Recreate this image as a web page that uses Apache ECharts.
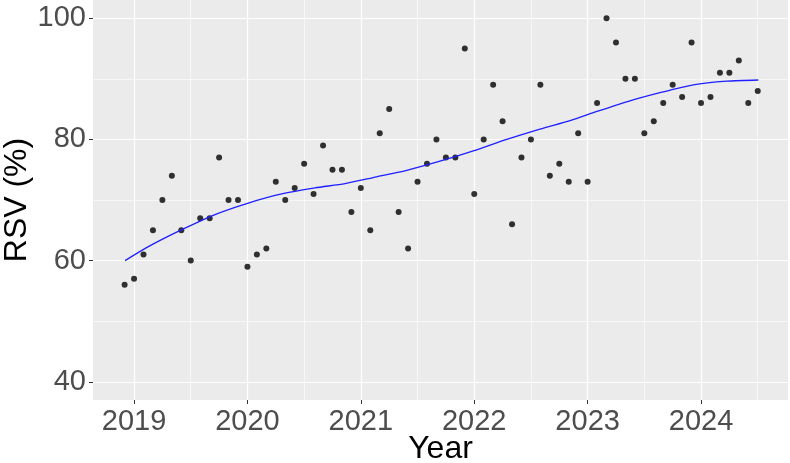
<!DOCTYPE html>
<html>
<head>
<meta charset="utf-8">
<script src="https://cdn.jsdelivr.net/npm/echarts@6/dist/echarts.min.js"></script>
<style>
  html, body { margin: 0; padding: 0; background: #fff; }
  #chart { width: 790px; height: 463px; }
</style>
</head>
<body>
<div id="chart"></div>
<script>
// monthly RSV values, Dec 2018 .. Jul 2024
var startYear = 2018;
var startMonth = 12;
var rsv = [
  56,
  57, 61, 65, 70, 74, 65, 60, 67, 67, 77, 70, 70,
  59, 61, 62, 73, 70, 72, 76, 71, 79, 75, 75, 68,
  72, 65, 81, 85, 68, 62, 73, 76, 80, 77, 77, 95,
  71, 80, 89, 83, 66, 77, 80, 89, 74, 76, 73, 81,
  73, 86, 100, 96, 90, 90, 81, 83, 86, 89, 87, 96,
  86, 87, 91, 91, 93, 86, 88
];

// smoothed trend
var trendX = [2018.921, 2019.126, 2019.421, 2019.714, 2020.008, 2020.302, 2020.596, 2020.861,
  2021.110, 2021.405, 2021.698, 2021.992, 2022.287, 2022.580, 2022.845,
  2023.050, 2023.345, 2023.638, 2023.932, 2024.227, 2024.505];
var trendY = [60, 62.3, 65.1, 67.6, 69.5, 71.0, 72.0, 72.7,
  73.7, 74.9, 76.4, 78.1, 80.0, 81.7, 83.1,
  84.4, 86.2, 87.7, 89.0, 89.6, 89.8];

var yearTicks = [2019, 2020, 2021, 2022, 2023, 2024];
var yearMinor = [2019.5, 2020.5, 2021.5, 2022.5, 2023.5, 2024.5];
var rsvTicks = [40, 60, 80, 100];
var rsvMinor = [50, 70, 90];

var points = rsv.map(function (v, i) {
  var m = startMonth - 1 + i;
  return [startYear + Math.floor(m / 12) + (m % 12) / 12, v];
});
var trend = trendX.map(function (x, i) { return [x, trendY[i]]; });

var chart = echarts.init(document.getElementById('chart'));
var labelFont = { color: '#4d4d4d', fontSize: 29, fontFamily: 'Liberation Sans' };
var xMin = 2018.638, xMax = 2024.767;

chart.setOption({
  backgroundColor: '#fff',
  animation: false,
  grid: {
    left: 93, right: 2, top: 0, bottom: 63,
    outerBoundsMode: 'none', containLabel: false,
    show: true, backgroundColor: '#ebebeb', borderWidth: 0
  },
  xAxis: [{
    type: 'value', min: xMin, max: xMax,
    name: 'Year', nameLocation: 'middle', nameGap: 33, nameMoveOverlap: false,
    nameTextStyle: { color: '#000', fontSize: 32, fontFamily: 'Liberation Sans' },
    axisLine: { show: false },
    axisTick: { show: true, length: 4, customValues: yearTicks, lineStyle: { color: '#333', width: 1 } },
    axisLabel: Object.assign({ customValues: yearTicks, margin: 7, formatter: function (v) { return String(Math.round(v)); } }, labelFont),
    splitLine: { show: true, lineStyle: { color: '#fff', width: 1.2 } }
  }, {
    type: 'value', min: xMin, max: xMax, position: 'bottom',
    axisLine: { show: false }, axisLabel: { show: false },
    axisTick: { show: false, customValues: yearMinor },
    splitLine: { show: true, lineStyle: { color: '#fff', width: 0.6 } }
  }],
  yAxis: [{
    type: 'value', min: 37, max: 103,
    name: 'RSV (%)', nameLocation: 'middle', nameGap: 60, nameRotate: 90, nameMoveOverlap: false,
    nameTextStyle: { color: '#000', fontSize: 32, fontFamily: 'Liberation Sans' },
    axisLine: { show: false },
    axisTick: { show: true, length: 4, customValues: rsvTicks, lineStyle: { color: '#333', width: 1 } },
    axisLabel: Object.assign({ customValues: rsvTicks, margin: 7 }, labelFont),
    splitLine: { show: true, lineStyle: { color: '#fff', width: 1.2 } }
  }, {
    type: 'value', min: 37, max: 103, position: 'left',
    axisLine: { show: false }, axisLabel: { show: false },
    axisTick: { show: false, customValues: rsvMinor },
    splitLine: { show: true, lineStyle: { color: '#fff', width: 0.6 } }
  }],
  series: [{
    type: 'scatter',
    data: points,
    symbolSize: 6,
    itemStyle: { color: '#000' },
    z: 3
  }, {
    type: 'line',
    data: trend,
    smooth: 0.25,
    showSymbol: false,
    lineStyle: { color: '#1f1fff', width: 1.3 },
    z: 4
  }]
});
</script>
</body>
</html>
